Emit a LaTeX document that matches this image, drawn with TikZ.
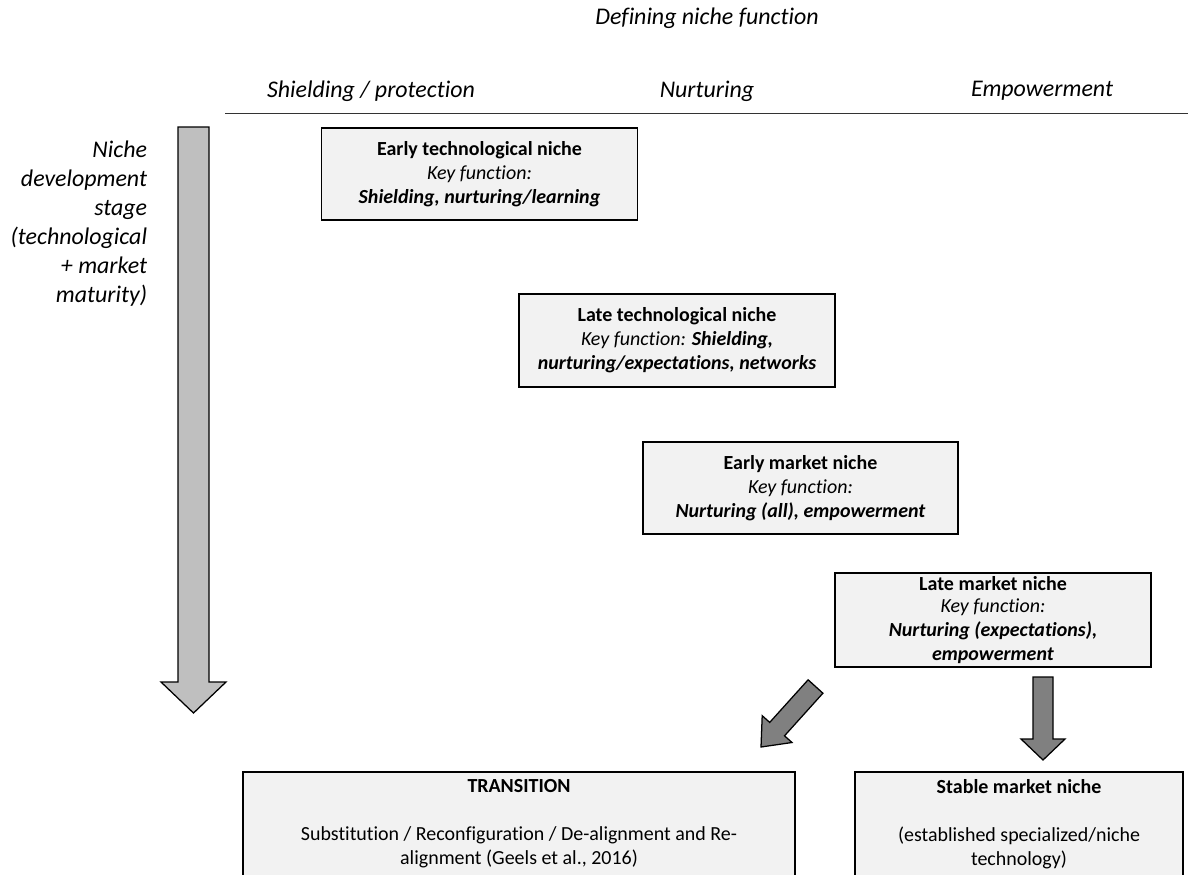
\documentclass[tikz,border=0pt]{standalone}
\usepackage{fontspec}
\setmainfont{Carlito}[Ligatures={NoCommon,NoContextual}]
\usetikzlibrary{positioning}

\definecolor{boxgray}{HTML}{F2F2F2}
\definecolor{stagegray}{HTML}{BFBFBF}
\definecolor{exitgray}{HTML}{808080}

\begin{document}
\begin{tikzpicture}[x=0.025cm, y=-0.025cm,
    nichebox/.style={draw=black, line width=1pt, fill=boxgray, align=center,
      inner sep=0pt, font=\fontsize{14.2}{17.1}\selectfont},
    headtext/.style={font=\fontsize{17}{20.6}\selectfont\itshape},
    blockarrow/.style={draw=black, line width=0.9pt, line join=miter}]

        \useasboundingbox (0,0) rectangle (1188,874);

        % the header texts
        \node[headtext] (title) at (707,18) {Defining niche function};
        \node[headtext] (shield) at (371,91) {Shielding / protection};
        \node[headtext] (nurture) at (707,91) {Nurturing};
        \node[headtext] (empower) at (1042,91) {Empowerment};
        \draw[gray!40!black, line width=0.7pt] (225,113) -- (1188,113);

        % the stage arrow on the left and its text
        \filldraw[blockarrow, fill=stagegray] (178,127) -- (209,127) -- (209,682)
            -- (226,682) -- (193.5,713) -- (161,682) -- (178,682) -- cycle;
        \node[headtext, align=right, anchor=east] (stage) at (152,224)
            {Niche\\development\\stage\\(technological\\+ market\\maturity)};

        % the niche stages
        \node[nichebox, minimum width=7.9cm, minimum height=2.3cm] (earlytech) at (479.5,174)
            {\textbf{Early technological niche}\\\textit{Key function:}\\\textbf{\textit{Shielding, nurturing/learning}}};
        \node[nichebox, minimum width=7.9cm, minimum height=2.325cm] (latetech) at (677,340.5)
            {\textbf{Late technological niche}\\\textit{Key function: \textbf{Shielding,}}\\\textbf{\textit{nurturing/expectations, networks}}};
        \node[nichebox, minimum width=7.875cm, minimum height=2.3cm] (earlymarket) at (800.5,488)
            {\textbf{Early market niche}\\\textit{Key function:}\\\textbf{\textit{Nurturing (all), empowerment}}};
        \node[nichebox, minimum width=7.9cm, minimum height=2.35cm] (latemarket) at (993,620)
            {\raisebox{-2pt}{\textbf{Late market niche}}\\\textit{Key function:}\\\textbf{\textit{Nurturing (expectations),}}\\\textbf{\textit{empowerment}}};

        % the two outcomes
        \node[nichebox, minimum width=13.8cm, minimum height=2.6cm] (transition) at (519,824)
            {\textbf{TRANSITION}\\[17.1pt]Substitution / Reconfiguration / De-alignment and Re-\\alignment (Geels et al., 2016)};
        \node[nichebox, minimum width=8.2cm, minimum height=2.6cm] (stable) at (1019,824)
            {\textbf{Stable market niche}\\[17.1pt](established specialized/niche\\technology)};

        % the arrows out of the late market niche
        \filldraw[blockarrow, fill=exitgray] (808.1,679.8) -- (822.9,693.2) -- (784.5,735.8)
            -- (792,742.5) -- (761,747) -- (762.2,715.7) -- (769.7,722.4) -- cycle;
        \filldraw[blockarrow, fill=exitgray] (1033,677) -- (1053,677) -- (1053,739)
            -- (1065,739) -- (1043,760) -- (1021,739) -- (1033,739) -- cycle;

    \end{tikzpicture}
\end{document}
